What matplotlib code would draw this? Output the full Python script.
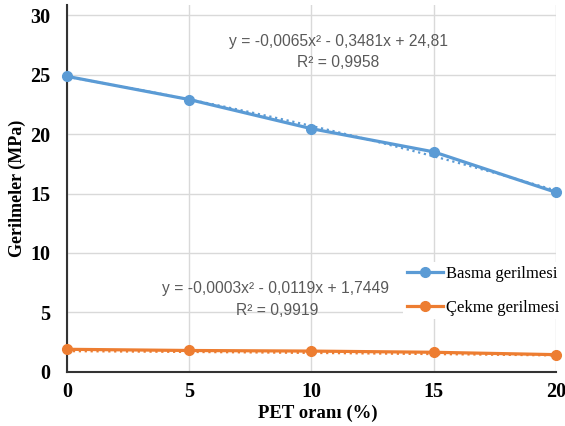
import numpy as np
import matplotlib.pyplot as plt

pet = [0, 5, 10, 15, 20]
basma = [24.85, 22.9, 20.45, 18.5, 15.1]
cekme = [1.9, 1.8, 1.75, 1.65, 1.45]
# trendline coefficients as printed on the chart
basma_fit = [-0.0065, -0.3481, 24.81]
cekme_fit = [-0.0003, -0.0119, 1.7449]

blue = '#5b9bd5'
orange = '#ed7d31'

fig = plt.figure(figsize=(5.65, 4.26), dpi=100)
ax = fig.add_axes([0.1186, 0.127, 0.8654, 0.861])

xs = np.linspace(0, 20, 100)
ax.plot(xs, np.polyval(basma_fit, xs), color=blue, lw=1.6, ls=':', zorder=2)
ax.plot(xs, np.polyval(cekme_fit, xs), color=orange, lw=1.6, ls=':', zorder=2)
ax.plot(pet, basma, color=blue, lw=2.3, marker='o', ms=7, label='Basma gerilmesi', zorder=3, clip_on=False)
ax.plot(pet, cekme, color=orange, lw=2.3, marker='o', ms=7, label='Çekme gerilmesi', zorder=3, clip_on=False)

ax.set_xlim(0, 20)
ax.set_ylim(0, 30.84)
ax.set_xticks(pet)
ax.set_yticks(range(0, 31, 5))
ax.grid(True, color='#d9d9d9', lw=1)
ax.set_axisbelow(True)
for s in ['top', 'right']:
    ax.spines[s].set_visible(False)
for s in ['left', 'bottom']:
    ax.spines[s].set_color('#333333')
    ax.spines[s].set_linewidth(1.5)
ax.tick_params(axis='y', length=0, pad=12)
ax.tick_params(axis='x', length=0, pad=7)
for lab in ax.get_xticklabels() + ax.get_yticklabels():
    lab.set_fontfamily('Liberation Serif')
    lab.set_fontweight('bold')
    lab.set_fontsize(14.5)

ax.set_xlabel('PET oranı (%)', fontfamily='Liberation Serif', fontweight='bold', fontsize=13.5)
ax.set_ylabel('Gerilmeler (MPa)', fontfamily='Liberation Serif', fontweight='bold', fontsize=13)
ax.xaxis.set_label_coords(0.513, -0.09)
ax.yaxis.set_label_coords(-0.084, 0.5)

eq = dict(fontfamily='Liberation Sans', fontsize=11.25, color='#595959', ha='center', va='center')
ax.text(11.1, 27.75, 'y = -0,0065x² - 0,3481x + 24,81', **eq)
ax.text(11.1, 26.0, 'R² = 0,9958', **eq)
ax.text(8.53, 7.0, 'y = -0,0003x² - 0,0119x + 1,7449', **eq)
ax.text(8.6, 5.2, 'R² = 0,9919', **eq)

leg = ax.legend(loc='upper left', bbox_to_anchor=(0.671, 0.321), frameon=True, edgecolor='none',
                framealpha=1, handlelength=2.2, handletextpad=0.15, labelspacing=1.1,
                borderpad=0.2, prop={'family': 'Liberation Serif', 'size': 12})

fig.savefig('out.png', dpi=100)
